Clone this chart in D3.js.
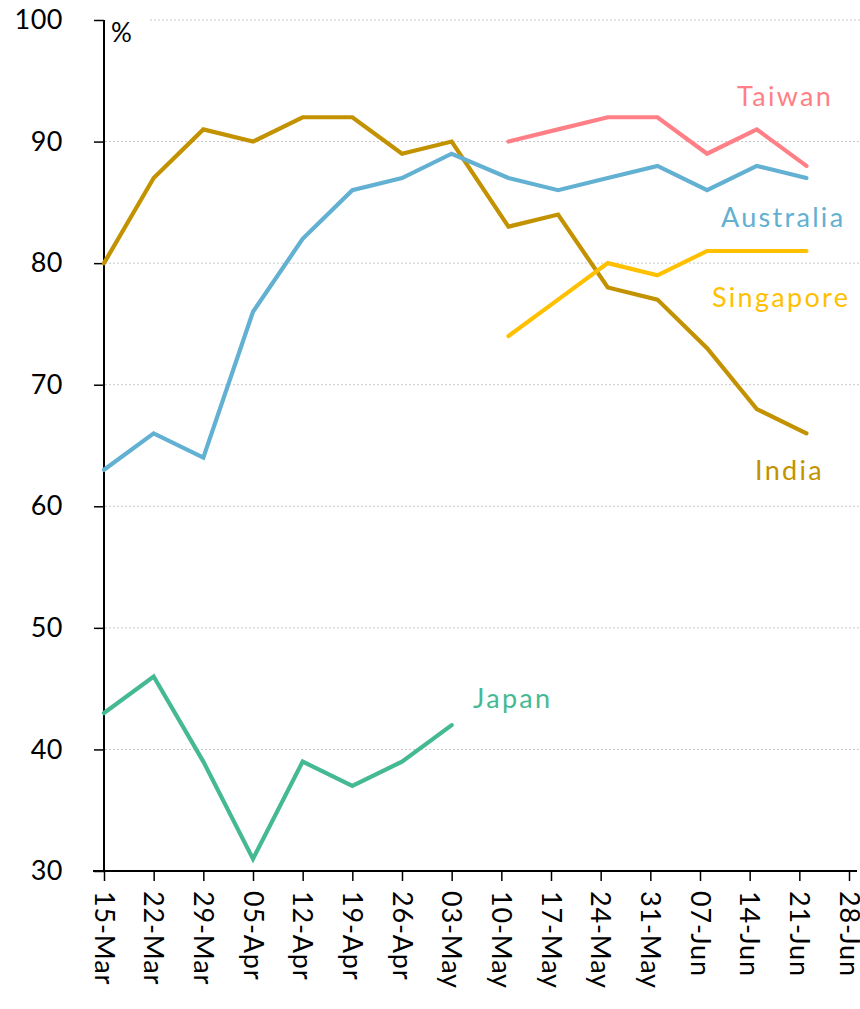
<!DOCTYPE html>
<html><head><meta charset="utf-8">
<script src="https://cdn.jsdelivr.net/npm/d3@7"></script>
<style>
body{margin:0;background:#fff;}
text{font-family:"Century Gothic","URW Gothic",Lato,"DejaVu Sans",sans-serif;}
</style></head>
<body><svg id="c" width="860" height="1009"></svg>
<script>
const tickDates = ["15-Mar","22-Mar","29-Mar","05-Apr","12-Apr","19-Apr","26-Apr","03-May","10-May","17-May","24-May","31-May","07-Jun","14-Jun","21-Jun","28-Jun"];
const datesEarly = ["15-Mar","22-Mar","29-Mar","05-Apr","12-Apr","19-Apr","26-Apr","03-May"];
const datesLate = ["11-May","18-May","25-May","01-Jun","08-Jun","15-Jun","22-Jun"];
const datesAll = datesEarly.concat(datesLate);
const india = [80,87,91,90,92,92,89,90,83,84,78,77,73,68,66];
const australia = [63,66,64,76,82,86,87,89,87,86,87,88,86,88,87];
const japan = [43,46,39,31,39,37,39,42];
const taiwan = [90,91,92,92,89,91,88];
const singapore = [74,77,80,79,81,81,81];
const yTicks = [30,40,50,60,70,80,90,100];

const parse = d3.timeParse("%d-%b-%Y");
const pd = s => parse(s + "-2020");
const FONT = '"Century Gothic","URW Gothic",Lato,"DejaVu Sans",sans-serif';
const FW = 400;

const svg = d3.select("#c");
const x = d3.scaleTime().domain([pd("15-Mar"), pd("28-Jun")]).range([104, 849]);
const y = d3.scaleLinear().domain([30,100]).range([871, 20]);

// grid
svg.append("g").selectAll("line").data(yTicks.filter(v=>v>30)).join("line")
  .attr("x1", d => d===100 ? 150 : 105).attr("x2", 860)
  .attr("y1", d=>y(d)).attr("y2", d=>y(d))
  .attr("stroke", "#c8c8c8").attr("stroke-width", 1).attr("stroke-dasharray", "2,2");

// y axis
const ya = svg.append("g").attr("transform","translate(104,0)")
  .call(d3.axisLeft(y).tickValues(yTicks).tickSize(10).tickPadding(31).tickFormat(d3.format("d")));
ya.select(".domain").attr("stroke","#000").attr("stroke-width",2).attr("d","M0,20V871");
ya.selectAll(".tick line").attr("stroke","#000").attr("stroke-width",1.5);
ya.selectAll(".tick text").attr("font-size",27).attr("fill","#000").attr("letter-spacing",0.5)
  .attr("font-weight",FW).style("font-family",FONT);

// x axis
const xa = svg.append("g").attr("transform","translate(0,871)")
  .call(d3.axisBottom(x).tickValues(tickDates.map(pd)).tickSize(10).tickFormat(d3.timeFormat("%d-%b")));
xa.select(".domain").attr("stroke","#000").attr("stroke-width",2).attr("d","M93,0H857");
xa.selectAll(".tick line").attr("stroke","#000").attr("stroke-width",1.5);
xa.selectAll(".tick text").attr("font-size",27).attr("fill","#000").attr("letter-spacing",0.8)
  .attr("text-anchor","start").attr("dy","0.37em").attr("y",0)
  .attr("transform","translate(0,20) rotate(90)")
  .attr("font-weight",FW).style("font-family",FONT);

svg.append("text").attr("x",111).attr("y",42).attr("font-size",26).attr("font-weight",FW).text("%");

const line = d3.line().x(d=>x(d[0])).y(d=>y(d[1]));
const series = [
  {name:"India", dates:datesAll, vals:india, color:"#C39200", lx:755, ly:480},
  {name:"Australia", dates:datesAll, vals:australia, color:"#62B0D2", lx:721, ly:227},
  {name:"Japan", dates:datesEarly, vals:japan, color:"#45B994", lx:473, ly:708},
  {name:"Taiwan", dates:datesLate, vals:taiwan, color:"#FF7F86", lx:737, ly:106},
  {name:"Singapore", dates:datesLate, vals:singapore, color:"#FFC000", lx:712, ly:307}
];
series.forEach(s => {
  const pts = s.dates.map((d,i)=>[pd(d), s.vals[i]]);
  svg.append("path").attr("d", line(pts)).attr("fill","none")
    .attr("stroke", s.color).attr("stroke-width",4.2).attr("stroke-linejoin","miter").attr("stroke-linecap","round");
  svg.append("text").attr("x", s.lx).attr("y", s.ly).attr("font-size",27).attr("letter-spacing",2.3)
    .attr("font-weight",FW).attr("fill", s.color).text(s.name);
});
</script></body></html>
